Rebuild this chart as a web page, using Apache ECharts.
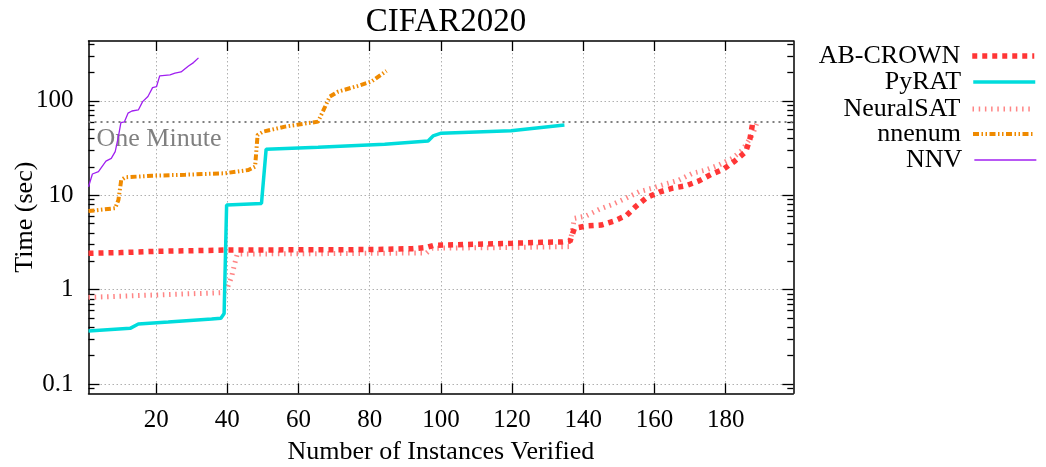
<!DOCTYPE html>
<html>
<head>
<meta charset="utf-8">
<script src="https://cdn.jsdelivr.net/npm/echarts@6/dist/echarts.min.js"></script>
<style>
html,body{margin:0;padding:0;background:#fff;}
#chart{width:1046px;height:467px;}
</style>
</head>
<body>
<div id="chart"></div>
<script>
// ---- data ----
const seriesNames = ['AB-CROWN', 'PyRAT', 'NeuralSAT', 'nnenum', 'NNV'];

const abcrownX = [1, 10, 20, 40, 80, 92, 96, 98, 120, 128.4, 134, 136.3, 137.5, 141, 145, 148.7, 152.2, 154.8, 157.8, 161.3, 165.1, 168.8, 172.5, 176, 179.4, 182.6, 185.6, 186.8, 187.5];
const abcrownY = [2.43, 2.47, 2.55, 2.63, 2.66, 2.72, 2.8, 2.95, 3.1, 3.18, 3.2, 3.28, 4.47, 4.73, 4.84, 5.35, 6.14, 7.64, 9.43, 10.8, 11.9, 12.6, 14.2, 16.7, 18.9, 23.1, 28.8, 39.2, 55.6];

const pyratX = [1, 12.7, 15, 23.4, 35.6, 38.2, 39.1, 39.8, 49.6, 50.9, 65.5, 84.2, 96.4, 97.8, 100.1, 119.7, 134.7];
const pyratY = [0.365, 0.39, 0.433, 0.455, 0.49, 0.5, 0.56, 7.9, 8.2, 30.7, 32.2, 34.7, 37.6, 42.5, 45.4, 48.3, 55.6];

const neuralsatX = [1, 20, 38.4, 39.8, 41.2, 42.1, 42.8, 60, 96, 97.5, 120, 136.1, 137.5, 140.8, 144.5, 148.2, 152, 155.7, 159.4, 163.2, 166.9, 170.7, 174.4, 178.2, 181.9, 184.7, 187.5, 188.9];
const neuralsatY = [0.83, 0.88, 0.93, 1.0, 1.37, 1.9, 2.39, 2.4, 2.45, 2.75, 2.8, 2.86, 5.7, 6.04, 7.1, 8.0, 9.3, 10.9, 11.9, 13.2, 14.5, 17.1, 18.5, 21, 24.7, 30.2, 43.5, 60];

const nnenumX = [1, 8.5, 9.4, 10.2, 11.3, 18.8, 28.1, 39.3, 45.9, 47.8, 48.5, 50.1, 56.2, 65.5, 68.8, 71.1, 76.7, 80.5, 84.7];
const nnenumY = [6.8, 7.3, 8.9, 14.5, 15.5, 16.1, 16.5, 17.1, 18.5, 20.1, 43.5, 47.2, 53.3, 60.2, 111, 125, 144, 160, 207];

const nnvX = [1, 2.1, 3.8, 5.9, 7.4, 8.5, 9.4, 10.1, 11.1, 12.1, 13.2, 15, 16.2, 17.7, 19, 20.1, 21, 23.9, 25.3, 27, 29.1, 30.5, 31.9];
const nnvY = [12.3, 16.8, 17.8, 23, 24.6, 29, 41.8, 58.8, 60, 74, 78, 80, 98, 111, 138, 141, 184, 188, 196, 202, 234, 254, 285];

const xTicks = [20, 40, 60, 80, 100, 120, 140, 160, 180];
const yTicks = [0.1, 1, 10, 100];
const yMinorTicks = [0.09, 0.2, 0.3, 0.4, 0.5, 0.6, 0.7, 0.8, 0.9, 2, 3, 4, 5, 6, 7, 8, 9, 20, 30, 40, 50, 60, 70, 80, 90, 200, 300, 400];
const oneMinute = 60;

// ---- chart ----
const FONT = '"Liberation Serif", "DejaVu Serif", serif';
const zip = (xs, ys) => xs.map((x, i) => [x, ys[i]]);

const styles = [
  {color: '#ff3636', width: 5.5, type: [5, 5]},
  {color: '#00dcdc', width: 3.5, type: 'solid'},
  {color: '#ff8585', width: 5, type: [1.5, 4.7]},
  {color: '#ef8a00', width: 4, type: [6, 2.5, 1.5, 2.5, 1.5, 2.5]},
  {color: '#a020f0', width: 1.3, type: 'solid'}
];
const datas = [zip(abcrownX, abcrownY), zip(pyratX, pyratY), zip(neuralsatX, neuralsatY), zip(nnenumX, nnenumY), zip(nnvX, nnvY)];

const gridLine = {show: true, lineStyle: {color: '#b0b0b0', width: 1, type: [1.5, 2.5]}};
const axisLine = {show: true, lineStyle: {color: '#000', width: 1.5}};
const XMIN = 1, XMAX = 199, YMIN = 0.08, YMAX = 430;

const series = seriesNames.map((name, i) => ({
  name: name,
  type: 'line',
  data: datas[i],
  xAxisIndex: 0,
  yAxisIndex: 0,
  symbol: 'none',
  lineStyle: {color: styles[i].color, width: styles[i].width, type: styles[i].type, cap: 'butt'},
  itemStyle: {color: styles[i].color},
  z: 10 - i
}));
series[0].markLine = {
  silent: true,
  symbol: ['none', 'none'],
  lineStyle: {color: '#808080', width: 2, type: [2, 4]},
  label: {show: true, formatter: 'One Minute', position: 'insideStartBottom', color: '#808080', fontSize: 26, fontFamily: FONT, distance: [8, 4]},
  data: [{yAxis: oneMinute}],
  z: 1
};

const legendTops = [55, 81, 108, 133, 159];
const legends = seriesNames.map((name, i) => ({
  data: [name],
  right: 9,
  top: legendTops[i] - 12,
  orient: 'horizontal',
  align: 'right',
  itemWidth: 62,
  itemHeight: 24,
  padding: 0,
  selectedMode: false,
  itemStyle: {opacity: 0},
  lineStyle: {color: styles[i].color, width: styles[i].width, type: styles[i].type, cap: 'butt', opacity: 1},
  textStyle: {fontSize: 26, fontFamily: FONT, color: '#000', padding: [0, 7, 0, 0]}
}));

const option = {
  animation: false,
  backgroundColor: '#fff',
  title: {
    text: 'CIFAR2020',
    left: 441, top: 1, textAlign: 'center',
    textStyle: {fontSize: 33, fontWeight: 'normal', fontFamily: FONT, color: '#000'}
  },
  legend: legends,
  grid: {left: 88.5, right: 252.7, top: 41, bottom: 73.7, containLabel: false, outerBoundsMode: 'none'},
  xAxis: [
    {
      type: 'value', min: XMIN, max: XMAX, position: 'bottom',
      name: 'Number of Instances Verified', nameLocation: 'middle', nameGap: 46, nameMoveOverlap: false,
      nameTextStyle: {fontSize: 26, fontFamily: FONT, color: '#000'},
      axisLine: axisLine,
      axisTick: {show: true, inside: true, length: 10, customValues: xTicks, lineStyle: {color: '#000', width: 1.3}},
      axisLabel: {show: true, customValues: xTicks, fontSize: 25, fontFamily: FONT, color: '#000', margin: 15},
      splitLine: gridLine
    },
    {
      type: 'value', min: XMIN, max: XMAX, position: 'top',
      axisLine: axisLine,
      axisTick: {show: true, inside: true, length: 10, customValues: xTicks, lineStyle: {color: '#000', width: 1.3}},
      axisLabel: {show: false},
      splitLine: {show: false}
    }
  ],
  yAxis: [
    {
      type: 'log', logBase: 10, min: YMIN, max: YMAX, position: 'left',
      name: 'Time (sec)', nameLocation: 'middle', nameGap: 50, nameMoveOverlap: false,
      nameTextStyle: {fontSize: 26, fontFamily: FONT, color: '#000'},
      axisLine: axisLine,
      axisTick: {show: true, inside: true, length: 11, customValues: yTicks, lineStyle: {color: '#000', width: 1.3}},
      axisLabel: {show: true, customValues: yTicks, fontSize: 25, fontFamily: FONT, color: '#000', margin: 15, formatter: v => String(v)},
      splitLine: gridLine
    },
    {
      type: 'log', logBase: 10, min: YMIN, max: YMAX, position: 'right',
      axisLine: axisLine,
      axisTick: {show: true, inside: true, length: 11, customValues: yTicks, lineStyle: {color: '#000', width: 1.3}},
      axisLabel: {show: false},
      splitLine: {show: false}
    },
    {
      type: 'log', logBase: 10, min: YMIN, max: YMAX, position: 'left',
      axisLine: {show: false},
      axisTick: {show: true, inside: true, length: 6, customValues: yMinorTicks, lineStyle: {color: '#000', width: 1.3}},
      axisLabel: {show: false},
      splitLine: {show: false}
    },
    {
      type: 'log', logBase: 10, min: YMIN, max: YMAX, position: 'right',
      axisLine: {show: false},
      axisTick: {show: true, inside: true, length: 6, customValues: yMinorTicks, lineStyle: {color: '#000', width: 1.3}},
      axisLabel: {show: false},
      splitLine: {show: false}
    }
  ],
  series: series
};

const chart = echarts.init(document.getElementById('chart'), null, {renderer: 'canvas'});
chart.setOption(option);
</script>
</body>
</html>
